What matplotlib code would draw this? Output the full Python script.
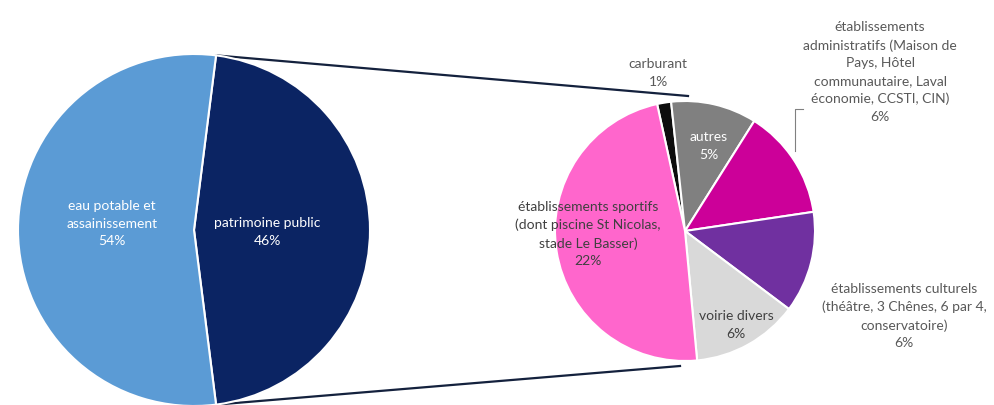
import numpy as np
import matplotlib
matplotlib.use("Agg")
import matplotlib.pyplot as plt

# ---- data ----
main_labels = ["patrimoine public", "eau potable et\nassainissement"]
main_values = [46, 54]
main_colors = ["#0B2463", "#5B9BD5"]

sub_labels = ["carburant", "autres",
              "établissements\nadministratifs (Maison de\nPays, Hôtel\ncommunautaire, Laval\néconomie, CCSTI, CIN)",
              "établissements culturels\n(théâtre, 3 Chênes, 6 par 4,\nconservatoire)",
              "voirie divers",
              "établissements sportifs\n(dont piscine St Nicolas,\nstade Le Basser)"]
sub_values = [0.8, 4.9, 6.3, 5.8, 6.1, 22.1]
sub_colors = ["#0D0D0D", "#808080", "#CC0099", "#7030A0", "#D9D9D9", "#FF66CC"]

plt.rcParams['font.family'] = ['Lato', 'DejaVu Sans']

W, H = 995, 406
fig = plt.figure(figsize=(W / 100, H / 100), dpi=100)
ax = fig.add_axes([0, 0, 1, 1])

# layout (pixel units, y measured from the bottom)
c1, r1 = (194, 175), 176
c2, r2 = (685, 174), 130

total = sum(main_values)
start1 = main_values[0] / total * 360 / 2
w1, _ = ax.pie(main_values, colors=main_colors, center=c1, radius=r1,
               startangle=start1, counterclock=False,
               wedgeprops=dict(edgecolor='white', linewidth=1.5), frame=True)

w2, _ = ax.pie(sub_values, colors=sub_colors, center=c2, radius=r2,
               startangle=102.4, counterclock=False,
               wedgeprops=dict(edgecolor='white', linewidth=1.5), frame=True)
ax.set_xlim(0, W)
ax.set_ylim(0, H)
ax.set_aspect('equal')
ax.axis('off')

# connector lines from the "patrimoine public" wedge edges to the small pie
a_top = np.deg2rad(w1[0].theta2)
a_bot = np.deg2rad(w1[0].theta1)
p_top = (c1[0] + r1 * np.cos(a_top), c1[1] + r1 * np.sin(a_top))
p_bot = (c1[0] + r1 * np.cos(a_bot), c1[1] + r1 * np.sin(a_bot))
ax.plot([p_top[0], c2[0] + 3], [p_top[1], c2[1] + r2 + 5], color='#14213D', lw=1.6, zorder=0)
ax.plot([p_bot[0], c2[0] - 5], [p_bot[1], c2[1] - r2 - 5], color='#14213D', lw=1.6, zorder=0)

fs = 10
ls = 1.55

def img(x, y):
    return x, H - y

# main pie labels
main_pos = [(267, 232), (112, 224)]
for lab, val, pos in zip(main_labels, main_values, main_pos):
    ax.text(*img(*pos), f"{lab}\n{val / total * 100:.0f}%", ha='center', va='center',
            color='white', fontsize=fs, linespacing=ls)

# sub pie labels
pcts = [f"{v:.0f}%" for v in sub_values]
sub_pos = [(658, 73), (709, 146), (880, 72), (904, 316), (736, 325), (588, 234)]
sub_tcol = ['#595959', 'white', '#595959', '#595959', '#404040', '#404040']
for lab, p, pos, col in zip(sub_labels, pcts, sub_pos, sub_tcol):
    ax.text(*img(*pos), f"{lab}\n{p}", ha='center', va='center',
            color=col, fontsize=fs, linespacing=ls)

# leader line for administratifs label
ax.plot([803, 795, 795], [H - 110, H - 110, H - 152], color='#808080', lw=0.8)

fig.savefig("out.png", dpi=100)
